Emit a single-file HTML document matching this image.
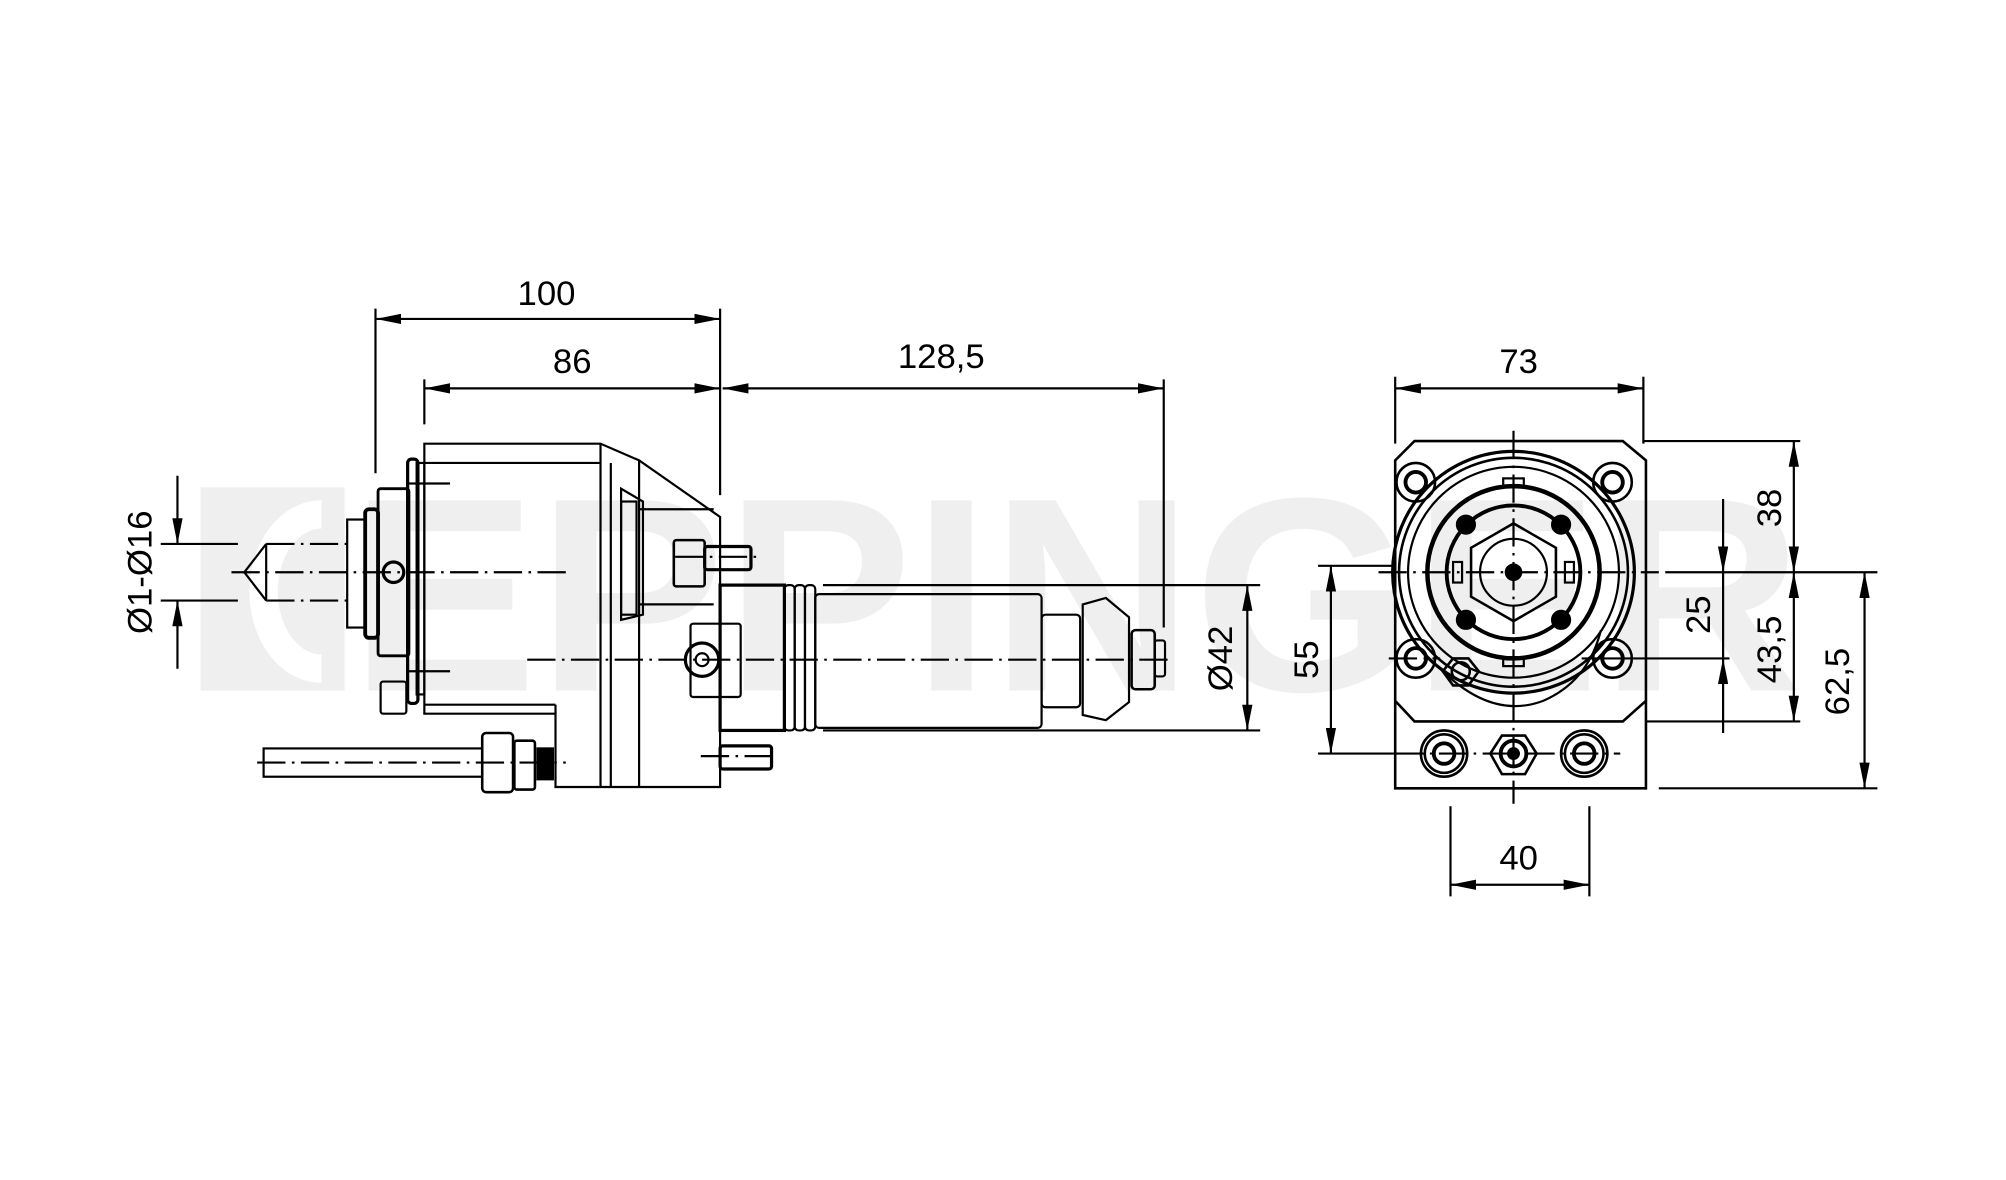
<!DOCTYPE html>
<html><head><meta charset="utf-8"><style>
html,body{margin:0;padding:0;background:#fff;}
svg{display:block;}
text{font-family:"Liberation Sans",sans-serif;}
</style></head><body>
<svg width="2006" height="1180" viewBox="0 0 1560 917.6" preserveAspectRatio="none" xmlns="http://www.w3.org/2000/svg">
<defs>
<marker id="a" viewBox="0 0 20 8" refX="20" refY="4" markerWidth="20" markerHeight="8" markerUnits="userSpaceOnUse" orient="auto-start-reverse"><path d="M0,0 L20,4 L0,8 z" fill="#000"/></marker>
</defs>
<!-- watermark -->
<g fill="#efefef">
<rect x="156" y="379" width="112" height="158"/>
<text x="272" y="537" font-size="215" font-weight="bold" textLength="1130" lengthAdjust="spacingAndGlyphs">EPPINGER</text>
</g>
<path d="M250,400 A45,60 0 1 0 250,520" fill="none" stroke="#fff" stroke-width="22"/>

<g stroke="#000" fill="none" stroke-width="1.7">
<line x1="292" y1="240" x2="292" y2="368"/>
<line x1="560" y1="240" x2="560" y2="385"/>
<line x1="330" y1="295" x2="330" y2="330"/>
<line x1="905" y1="295" x2="905" y2="488"/>
<line x1="292" y1="248" x2="560" y2="248" marker-start="url(#a)" marker-end="url(#a)"/>
<line x1="330" y1="302" x2="560" y2="302" marker-start="url(#a)" marker-end="url(#a)"/>
<line x1="562" y1="302" x2="905" y2="302" marker-start="url(#a)" marker-end="url(#a)"/>
<line x1="125" y1="423" x2="185" y2="423"/>
<line x1="125" y1="467" x2="185" y2="467"/>
<line x1="138" y1="370" x2="138" y2="423" marker-end="url(#a)"/>
<line x1="138" y1="520" x2="138" y2="467" marker-end="url(#a)"/>
<line x1="640" y1="455" x2="980" y2="455"/>
<line x1="640" y1="568" x2="980" y2="568"/>
<line x1="970" y1="455" x2="970" y2="568" marker-start="url(#a)" marker-end="url(#a)"/>

<path d="M207,423 L190,445 L207,467"/>
<line x1="207" y1="423" x2="207" y2="467"/>
<g stroke-dasharray="22,5,2,5">
<line x1="207" y1="423" x2="270" y2="423"/>
<line x1="207" y1="467" x2="270" y2="467"/>
<line x1="180" y1="445" x2="445" y2="445"/>
<line x1="410" y1="513" x2="912" y2="513"/>
<line x1="200" y1="593" x2="440" y2="593"/>
<line x1="525" y1="433" x2="592" y2="433"/>
<line x1="545" y1="588" x2="605" y2="588"/>
</g>
<rect x="270" y="404" width="14" height="84"/>
<rect x="284" y="396" width="10" height="100" rx="3" stroke-width="3"/>
<rect x="294" y="380" width="24" height="130" rx="2" stroke-width="2.2"/>
<circle cx="306" cy="445" r="8" stroke-width="2.5"/>
<rect x="317" y="357" width="8" height="190" rx="3" stroke-width="2.5"/>
<rect x="324" y="360" width="6" height="180"/>
<line x1="318" y1="376" x2="350" y2="376"/>
<line x1="318" y1="522" x2="350" y2="522"/>
<rect x="296" y="530" width="20" height="25" rx="2"/>
<path d="M330,345 L467,345 L497,358 L560,402 L560,612 L432,612 L432,555 L330,555 Z"/>
<line x1="330" y1="360" x2="467" y2="360"/>
<line x1="467" y1="345" x2="467" y2="612"/>
<line x1="475" y1="360" x2="475" y2="612"/>
<line x1="497" y1="358" x2="497" y2="612"/>
<line x1="330" y1="548" x2="432" y2="548"/>
<line x1="432" y1="548" x2="432" y2="555"/>
<path d="M483,380 L500,390 L500,478 L483,482 Z"/>
<rect x="483" y="390" width="12" height="88"/>
<line x1="497" y1="396" x2="555" y2="396"/>
<line x1="497" y1="470" x2="555" y2="470"/>
<rect x="524" y="420" width="24" height="36" rx="2" stroke-width="2"/>
<rect x="548" y="425" width="36" height="18" rx="2" stroke-width="2.5"/>
<rect x="537" y="485" width="39" height="57" rx="2"/>
<circle cx="546" cy="513" r="13" stroke-width="2.5"/>
<circle cx="546" cy="513" r="5"/>
<rect x="560" y="580" width="40" height="18" rx="2" stroke-width="2.5"/>
<rect x="205" y="582" width="170" height="22"/>
<rect x="375" y="570" width="24" height="46" rx="3" stroke-width="2"/>
<rect x="400" y="576" width="16" height="38" rx="2" stroke-width="2"/>
<rect x="418" y="582" width="12" height="24" fill="#000"/>
<rect x="560" y="455" width="50" height="113" stroke-width="2.5"/>
<rect x="610" y="455" width="8" height="113" rx="3"/>
<rect x="618" y="455" width="8" height="113" rx="3"/>
<rect x="626" y="455" width="8" height="113" rx="3"/>
<rect x="634" y="462" width="176" height="104" rx="3"/>
<rect x="810" y="478" width="30" height="72" rx="3"/>
<path d="M842,470 L860,465 L878,480 L878,546 L860,560 L842,556 Z"/>
<rect x="880" y="490" width="18" height="46" rx="3" stroke-width="2"/>
<rect x="898" y="498" width="8" height="28" rx="2"/>

<line x1="1085" y1="293" x2="1085" y2="345"/>
<line x1="1278" y1="293" x2="1278" y2="345"/>
<line x1="1085" y1="302" x2="1278" y2="302" marker-start="url(#a)" marker-end="url(#a)"/>
<path d="M1100,343 L1262,343 L1280,358 L1280,545 L1262,561 L1100,561 L1085,545 L1085,358 Z" stroke-width="2"/>
<path d="M1085,545 L1085,613 L1280,613 L1280,545" stroke-width="2"/>
<line x1="1278" y1="343" x2="1400" y2="343"/>
<line x1="1280" y1="561" x2="1400" y2="561"/>
<line x1="1290" y1="613" x2="1460" y2="613"/>
<line x1="1295" y1="445" x2="1460" y2="445"/>
<line x1="1230" y1="512" x2="1345" y2="512"/>
<line x1="1025" y1="440" x2="1085" y2="440"/>
<line x1="1025" y1="586" x2="1085" y2="586"/>
<line x1="1035" y1="440" x2="1035" y2="586" marker-start="url(#a)" marker-end="url(#a)"/>
<line x1="1395" y1="343" x2="1395" y2="445" marker-start="url(#a)" marker-end="url(#a)"/>
<line x1="1395" y1="445" x2="1395" y2="561" marker-start="url(#a)" marker-end="url(#a)"/>
<line x1="1450" y1="445" x2="1450" y2="613" marker-start="url(#a)" marker-end="url(#a)"/>
<line x1="1340" y1="388" x2="1340" y2="445" marker-end="url(#a)"/>
<line x1="1340" y1="570" x2="1340" y2="512" marker-end="url(#a)"/>
<line x1="1340" y1="445" x2="1340" y2="512"/>
<line x1="1128" y1="627" x2="1128" y2="697"/>
<line x1="1236" y1="627" x2="1236" y2="697"/>
<line x1="1128" y1="688" x2="1236" y2="688" marker-start="url(#a)" marker-end="url(#a)"/>

<circle cx="1177" cy="445" r="94" stroke-width="2.5"/>
<circle cx="1177" cy="445" r="89" stroke-width="2"/>
<circle cx="1177" cy="445" r="82"/>
<circle cx="1177" cy="445" r="67" stroke-width="3.5"/>
<circle cx="1177" cy="445" r="52" stroke-width="3"/>
<polygon points="1177,407 1210,426 1210,464 1177,483 1144,464 1144,426" stroke-width="2"/>
<circle cx="1177" cy="445" r="26"/>
<circle cx="1177" cy="445" r="6" fill="#000"/>
<rect x="1169" y="372" width="16" height="7"/>
<rect x="1169" y="511" width="16" height="7"/>
<rect x="1130" y="437" width="7" height="16"/>
<rect x="1217" y="437" width="7" height="16"/>
<g fill="#000">
<circle cx="1140" cy="408" r="7"/><circle cx="1214" cy="408" r="7"/>
<circle cx="1140" cy="482" r="7"/><circle cx="1214" cy="482" r="7"/>
</g>
<g stroke-width="2">
<circle cx="1101" cy="375" r="15"/><circle cx="1101" cy="375" r="8" stroke-width="3"/>
<circle cx="1254" cy="375" r="15"/><circle cx="1254" cy="375" r="8" stroke-width="3"/>
<circle cx="1101" cy="512" r="15"/><circle cx="1101" cy="512" r="8" stroke-width="3"/>
<circle cx="1254" cy="512" r="15"/><circle cx="1254" cy="512" r="8" stroke-width="3"/>
<circle cx="1123" cy="586" r="18"/><circle cx="1123" cy="586" r="15"/><circle cx="1123" cy="586" r="8" stroke-width="3"/>
<circle cx="1232" cy="586" r="18"/><circle cx="1232" cy="586" r="15"/><circle cx="1232" cy="586" r="8" stroke-width="3"/>
<polygon points="1168,572 1186,572 1195,586 1186,602 1168,602 1159,586"/>
<circle cx="1177" cy="586" r="10" stroke-width="3"/>
<circle cx="1177" cy="586" r="4" fill="#000"/>
<polygon points="1130,512 1142,512 1150,522 1142,533 1130,533 1122,522"/>
<circle cx="1136" cy="522" r="7"/>
</g>
<path d="M1120,520 Q1160,560 1200,545 Q1235,530 1245,490" />
<g stroke-dasharray="22,5,2,5">
<line x1="1177" y1="335" x2="1177" y2="625"/>
<line x1="1072" y1="445" x2="1290" y2="445"/>
<line x1="1085" y1="586" x2="1260" y2="586"/>
<line x1="1080" y1="512" x2="1120" y2="512"/>
</g>
</g>

<g font-size="27" text-anchor="middle" fill="#000">
<text x="425" y="237">100</text>
<text x="445" y="290">86</text>
<text x="732" y="286">128,5</text>
<text x="1181" y="290">73</text>
<text x="1181" y="676">40</text>
<text transform="translate(118,445) rotate(-90)">Ø1-Ø16</text>
<text transform="translate(958,512) rotate(-90)">Ø42</text>
<text transform="translate(1025,513) rotate(-90)">55</text>
<text transform="translate(1385,395) rotate(-90)">38</text>
<text transform="translate(1330,478) rotate(-90)">25</text>
<text transform="translate(1385,505) rotate(-90)">43,5</text>
<text transform="translate(1438,530) rotate(-90)">62,5</text>
</g>
</svg>
</body></html>
